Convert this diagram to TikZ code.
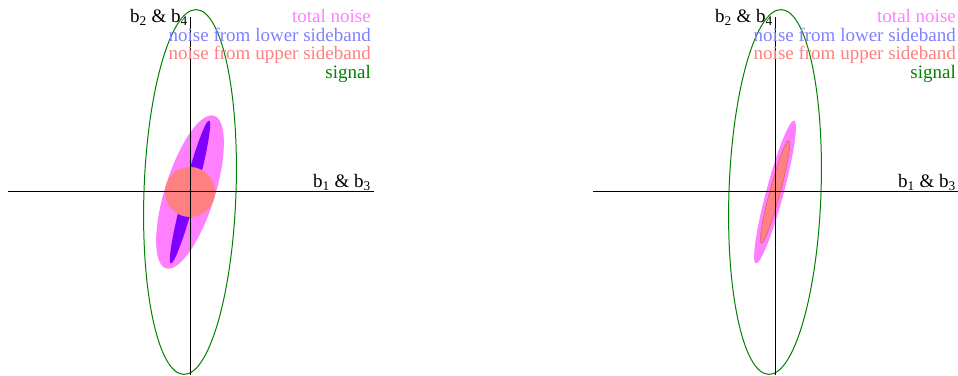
\documentclass[tikz,border=0pt]{standalone}
\usepackage{fontspec}
\setmainfont{Liberation Serif}
\usepackage{tikz}
\definecolor{qnTotal}{HTML}{FF80FF}
\definecolor{qnLower}{HTML}{8080FF}
\definecolor{qnLowerFill}{HTML}{8000FF}
\definecolor{qnUpper}{HTML}{FF8080}
\definecolor{qnSignal}{HTML}{008000}
\tikzset{
  qnAxis/.style={draw=black,line width=1pt},
  qnSignal/.style={draw=qnSignal,line width=1pt},
  qnText/.style={font=\fontsize{19}{19}\selectfont,inner sep=0pt},
  qnKey/.style={qnText,anchor=base east}
}
\begin{document}
\begin{tikzpicture}[x=1pt,y=1pt]
\path[use as bounding box] (0,0) rectangle (958,375);
% both panels: signal ellipse
\foreach \ox/\pn in {190/L,775/R}{
  \begin{scope}[shift={(\ox,183)}]
    \coordinate (o\pn) at (0,0);
    \draw[qnSignal,rotate=88] (o\pn) ellipse [x radius=182.5,y radius=46];
  \end{scope}
}
% left panel: noise ellipses
\fill[qnTotal,rotate around={72.5:(oL)}] (oL) ellipse [x radius=80,y radius=25];
\fill[qnLowerFill,rotate around={75:(oL)}] (oL) ellipse [x radius=74,y radius=6.5];
\fill[qnUpper] (oL) circle [radius=25];
% right panel: noise ellipses
\fill[qnTotal,rotate around={75:(oR)}] (oR) ellipse [x radius=74,y radius=8.7];
\filldraw[fill=qnUpper,draw=qnUpper!80!black,line width=0.5pt,rotate around={75:(oR)}]
  (oR) ellipse [x radius=53,y radius=5.2];
% both panels: axes and key
\foreach \ox/\pn in {190/L,775/R}{
  \begin{scope}[shift={(\ox,183)}]
    \coordinate (xl\pn) at (-182,0);
    \coordinate (xr\pn) at (184,0);
    \coordinate (yb\pn) at (0,-183);
    \coordinate (yt\pn) at (0,175);
    \draw[qnAxis] (xl\pn) -- (xr\pn);
    \draw[qnAxis] (yb\pn) -- (yt\pn);
    \node[qnKey] (ax\pn) at (181,4) {b\textsubscript{1} \& b\textsubscript{3}};
    \node[qnKey] (ay\pn) at (-2,169) {b\textsubscript{2} \& b\textsubscript{4}};
    \node[qnKey,text=qnTotal] (kt\pn) at (181,169) {total noise};
    \node[qnKey,text=qnLower] (kl\pn) at (181,150.5) {noise from lower sideband};
    \node[qnKey,text=qnUpper] (ku\pn) at (181,132) {noise from upper sideband};
    \node[qnKey,text=qnSignal] (ks\pn) at (181,113.5) {signal};
  \end{scope}
}
\end{tikzpicture}
\end{document}
